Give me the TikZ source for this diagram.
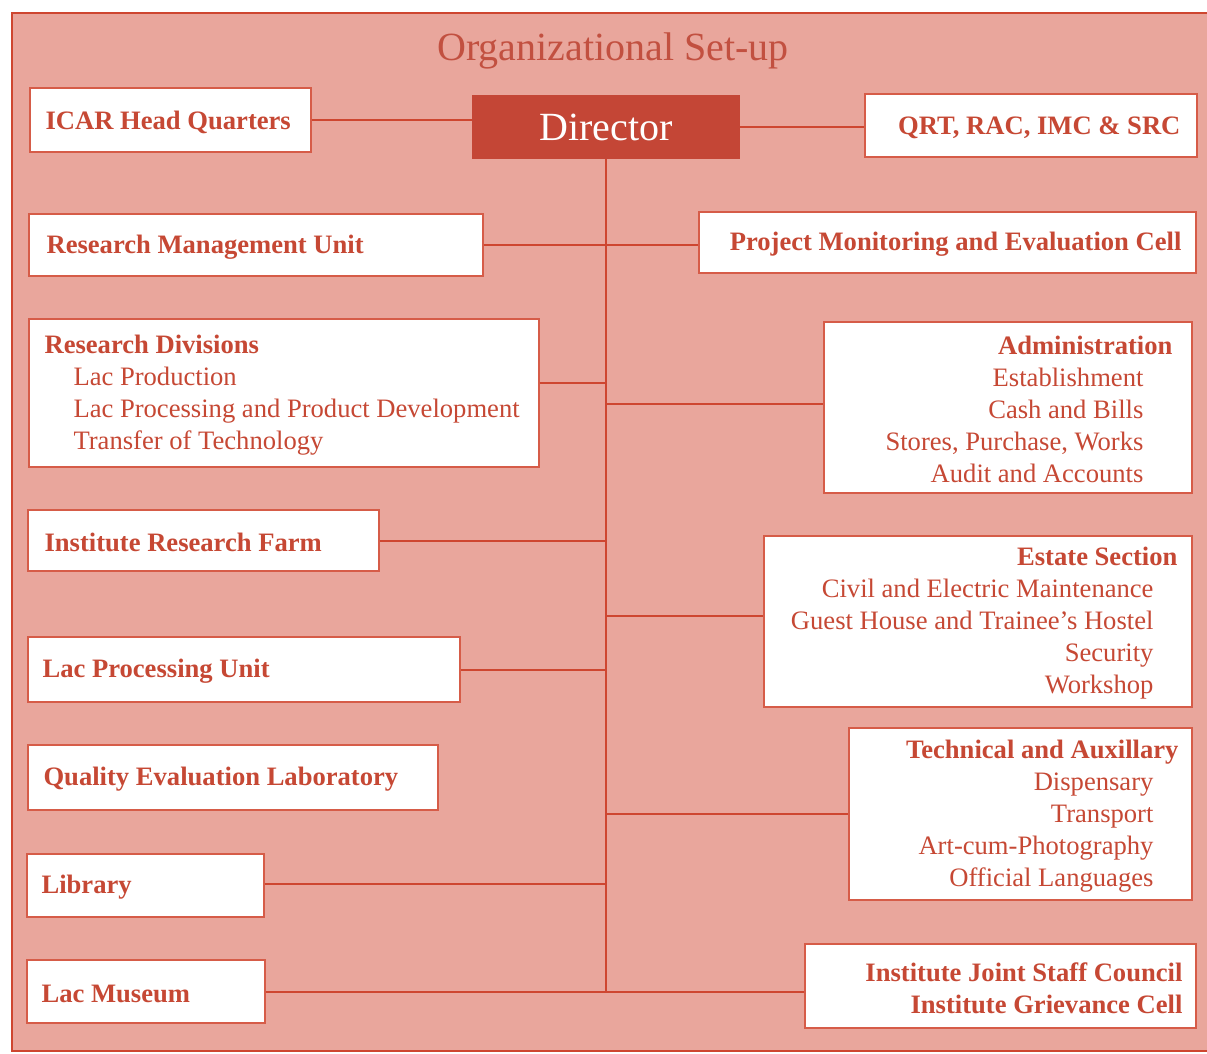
\documentclass[tikz,border=0pt]{standalone}
\usepackage{fontspec}
\setmainfont{Liberation Serif}
\definecolor{bgpink}{RGB}{233,166,156}
\definecolor{inkred}{RGB}{198,72,52}
\definecolor{linered}{RGB}{206,70,48}
\definecolor{boxred}{RGB}{214,92,72}
\definecolor{dirred}{RGB}{196,70,54}
\definecolor{titlered}{RGB}{194,80,64}
\newcommand{\gap}[1]{\hbox to #1{}}
\begin{document}
\begin{tikzpicture}[x=1pt,y=-1pt,
  unitbox/.style={draw=boxred, line width=1.3pt, fill=white, inner sep=0pt},
  label/.style={text=inkred, inner sep=0pt, yshift=-2pt, font=\fontsize{26.6}{32}\selectfont},
  lfirst/.style={label, anchor=west, align=left},
  rlast/.style={label, anchor=east, align=right},
  conn/.style={draw=linered, line width=1.4pt},
  heading/.style={font=\fontsize{40}{48}\selectfont}]
\useasboundingbox (0,0) rectangle (1207,1053);
\begin{scope}
\clip (0,0) rectangle (1207,1053);
\draw[fill=bgpink, draw=linered, line width=1.6pt] (12,13) rectangle (1215,1051);
\end{scope}

\node[heading, text=titlered] (title) at (613,51) {Organizational Set-up};

% top row
\node[rectangle, fill=dirred, minimum width=268pt, minimum height=64pt, inner sep=0pt,
  text=white, heading] (director) at (606,127) {Director};
\node[unitbox, minimum width=281pt, minimum height=64pt] (icar) at (170.5,120) {};
\node[lfirst] (icart) at ([xshift=16pt]icar.west) {\textbf{ICAR Head Quarters}};
\node[unitbox, minimum width=332pt, minimum height=63pt] (qrt) at (1031,125.5) {};
\node[rlast] (qrtt) at ([xshift=-17pt]qrt.east) {\textbf{QRT, RAC, IMC \& SRC}};

% left column
\node[unitbox, minimum width=454pt, minimum height=62pt] (rmu) at (256,245) {};
\node[lfirst] (rmut) at ([xshift=18pt]rmu.west) {\textbf{Research Management Unit}};
\node[unitbox, minimum width=510pt, minimum height=148pt] (rd) at (284,393) {};
\node[lfirst] (rdt) at ([xshift=16pt]rd.west) {\textbf{Research Divisions}\\
  \gap{29pt}Lac Production\\
  \gap{29pt}Lac Processing and Product Development\\
  \gap{29pt}Transfer of Technology};
\node[unitbox, minimum width=351pt, minimum height=61pt] (irf) at (203.5,540.5) {};
\node[lfirst] (irft) at ([xshift=17pt]irf.west) {\textbf{Institute Research Farm}};
\node[unitbox, minimum width=432pt, minimum height=65pt] (lpu) at (244,669.5) {};
\node[lfirst] (lput) at ([xshift=15pt]lpu.west) {\textbf{Lac Processing Unit}};
\node[unitbox, minimum width=410pt, minimum height=65pt] (qel) at (233,777.5) {};
\node[lfirst] (qelt) at ([xshift=16pt]qel.west) {\textbf{Quality Evaluation Laboratory}};
\node[unitbox, minimum width=237pt, minimum height=63pt] (lib) at (145.5,885.5) {};
\node[lfirst] (libt) at ([xshift=15pt]lib.west) {\textbf{Library}};
\node[unitbox, minimum width=238pt, minimum height=63pt] (mus) at (146,991.5) {};
\node[lfirst] (must) at ([xshift=15pt]mus.west) {\textbf{Lac Museum}};

% right column
\node[unitbox, minimum width=497pt, minimum height=61pt] (pmec) at (947.5,242.5) {};
\node[rlast] (pmect) at ([xshift=-15pt]pmec.east) {\textbf{Project Monitoring and Evaluation Cell}};
\node[unitbox, minimum width=368pt, minimum height=171pt] (adm) at (1008,407.5) {};
\node[rlast] (admt) at ([xshift=-20pt]adm.east) {\textbf{Administration}\\
  Establishment\gap{29pt}\\
  Cash and Bills\gap{29pt}\\
  Stores, Purchase, Works\gap{29pt}\\
  Audit and Accounts\gap{29pt}};
\node[unitbox, minimum width=428pt, minimum height=171pt] (est) at (978,621.5) {};
\node[rlast] (estt) at ([xshift=-15pt]est.east) {\textbf{Estate Section}\\
  Civil and Electric Maintenance\gap{24pt}\\
  Guest House and Trainee’s Hostel\gap{24pt}\\
  Security\gap{24pt}\\
  Workshop\gap{24pt}};
\node[unitbox, minimum width=343pt, minimum height=172pt] (tech) at (1020.5,814) {};
\node[rlast] (techt) at ([xshift=-14pt]tech.east) {\textbf{Technical and Auxillary}\\
  Dispensary\gap{25pt}\\
  Transport\gap{25pt}\\
  Art-cum-Photography\gap{25pt}\\
  Official Languages\gap{25pt}};
\node[unitbox, minimum width=391pt, minimum height=84pt] (jsc) at (1000.5,986) {};
\node[rlast] (jsct) at ([xshift=-14pt]jsc.east) {\textbf{Institute Joint Staff Council}\\
  \textbf{Institute Grievance Cell}};

% junctions on the central trunk
\coordinate (tend) at (606,992);
\coordinate (jrd) at (606,383);
\coordinate (jadm) at (606,404);
\coordinate (jirf) at (606,541);
\coordinate (jest) at (606,616);
\coordinate (jlpu) at (606,670);
\coordinate (jtech) at (606,814);
\coordinate (jlib) at (606,884);

% connectors
\draw[conn] (icar.east) -- (director.west |- icar.east);
\draw[conn] (director.east) -- (qrt.west |- director.east);
\draw[conn] (director.south) -- (tend);
\draw[conn] (rmu.east) -- (pmec.west |- rmu.east);
\draw[conn] (rd.east |- jrd) -- (jrd);
\draw[conn] (jadm) -- (adm.west |- jadm);
\draw[conn] (irf.east |- jirf) -- (jirf);
\draw[conn] (jest) -- (est.west |- jest);
\draw[conn] (lpu.east |- jlpu) -- (jlpu);
\draw[conn] (jtech) -- (tech.west |- jtech);
\draw[conn] (lib.east |- jlib) -- (jlib);
\draw[conn] (mus.east |- tend) -- (jsc.west |- tend);
\end{tikzpicture}
\end{document}
